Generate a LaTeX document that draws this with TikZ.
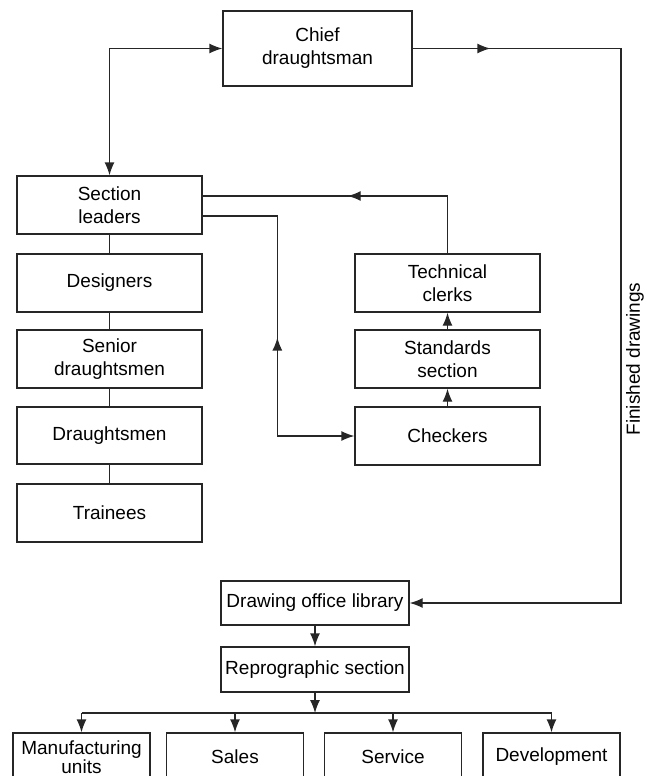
\documentclass[tikz,border=0pt]{standalone}
\usepackage{fontspec}
\setmainfont{Liberation Sans}
\usetikzlibrary{arrows.meta,decorations.markings}
\begin{document}
\begin{tikzpicture}[x=1pt,y=-1pt,
	box/.style={draw=black!85, line width=1.3pt, minimum width=185pt, minimum height=58pt, align=center, inner sep=2pt},
	smallbox/.style={box, minimum width=137pt, minimum height=48pt},
	link/.style={line width=1.3pt, draw=black!85},
	tip/.style={-{Latex[length=13pt,width=10pt]}},
	midtip/.style={postaction={decorate}, decoration={markings, mark=at position #1 with {\arrow{Latex[length=13pt,width=10pt]}}}},
	midtipback/.style={postaction={decorate}, decoration={markings, mark=at position #1 with {\arrowreversed{Latex[length=13pt,width=10pt]}}}},
	font=\fontsize{19}{23}\selectfont]
	\useasboundingbox (0,0) rectangle (647,776);

	\node[box, minimum width=189pt, minimum height=75pt] (chief) at (317.5,48.5) {Chief\\draughtsman};

	\node[box] (leaders) at (109.5,205) {Section\\leaders};
	\node[box] (designers) at (109.5,283) {Designers};
	\node[box] (senior) at (109.5,359) {Senior\\draughtsmen};
	\node[box, minimum height=57pt] (draughtsmen) at (109.5,435.5) {Draughtsmen};
	\node[box] (trainees) at (109.5,513) {Trainees};

	\node[box] (clerks) at (447.5,283) {Technical\\clerks};
	\node[box] (standards) at (447.5,359) {Standards\\section};
	\node[box] (checkers) at (447.5,436) {Checkers};

	\node[box, minimum width=188pt, minimum height=44pt] (library) at (315,603) {Drawing office library};
	\node[box, minimum width=188pt, minimum height=45pt] (repro) at (315,669.5) {Reprographic section};

	\node[smallbox] (manuf) at (81.5,757) {Manufacturing\\[-4pt]units};
	\node[smallbox] (sales) at (235,757) {Sales};
	\node[smallbox] (service) at (393,757) {Service};
	\node[smallbox] (devel) at (551.5,757) {Development};

	\coordinate (fd) at (621,48.5);
	\coordinate (bus) at (315,713);

	\draw[link, {Latex[length=13pt,width=10pt]}-{Latex[length=13pt,width=10pt]}] (leaders.north) |- (chief.west);
	\draw[link, midtip=0.373] (chief.east) -- (fd);
	\draw[link, tip] (fd) |- (library.east) node[pos=0.28, right=1pt, rotate=90, anchor=north] {Finished drawings};

	\foreach \a/\b in {leaders/designers, designers/senior, senior/draughtsmen, draughtsmen/trainees}
		\draw[link] (\a.south) -- (\b.north);

	\draw[link, midtip=0.52] (clerks.north) |- ([yshift=9pt]leaders.east);
	\draw[link, tip, midtipback=0.528] ([yshift=-11pt]leaders.east) -| ([xshift=-77pt]checkers.west) -- (checkers.west);
	\draw[link, tip] (standards.north) -- (clerks.south);
	\draw[link, tip] (checkers.north) -- (standards.south);

	\draw[link, tip] (library.south) -- (repro.north);
	\draw[link, tip] (repro.south) -- (bus);
	\draw[link] (manuf.north |- bus) -- (devel.north |- bus);
	\foreach \n in {manuf, sales, service, devel}
		\draw[link, tip] (\n.north |- bus) -- (\n.north);
\end{tikzpicture}
\end{document}
